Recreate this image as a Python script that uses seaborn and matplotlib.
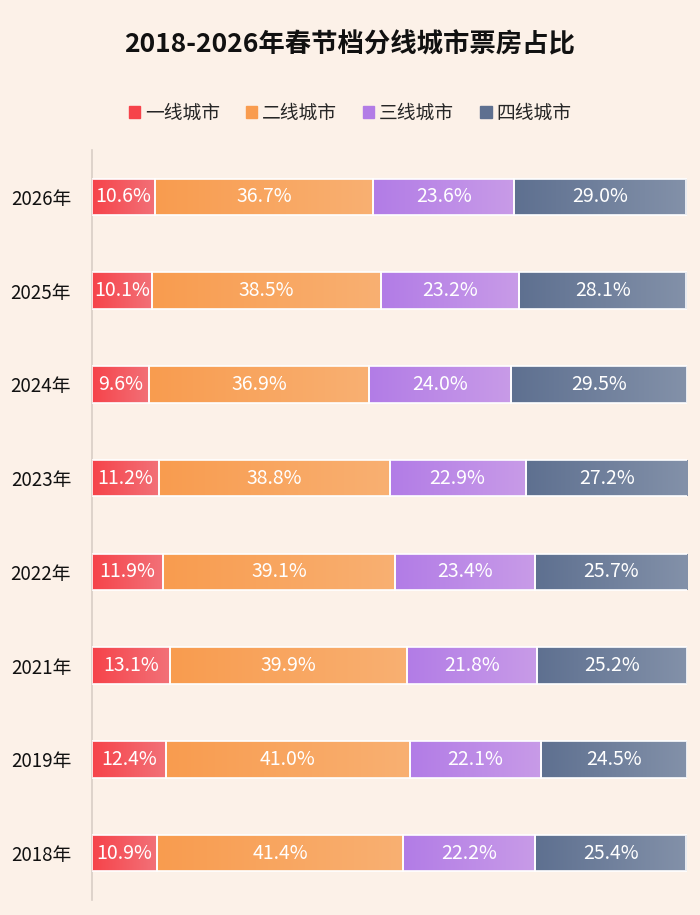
import numpy as np
import pandas as pd
import matplotlib
matplotlib.use("Agg")
import matplotlib.pyplot as plt
from matplotlib.colors import LinearSegmentedColormap
from matplotlib.patches import Rectangle
import seaborn as sns

sns.set_theme(style="white")
plt.rcParams["font.family"] = ["Noto Sans CJK SC", "DejaVu Sans"]

# data, top to bottom as in the picture
years = ["2026年", "2025年", "2024年", "2023年", "2022年", "2021年", "2019年", "2018年"]
tier1 = [10.6, 10.1, 9.6, 11.2, 11.9, 13.1, 12.4, 10.9]
tier2 = [36.7, 38.5, 36.9, 38.8, 39.1, 39.9, 41.0, 41.4]
tier3 = [23.6, 23.2, 24.0, 22.9, 23.4, 21.8, 22.1, 22.2]
tier4 = [29.0, 28.1, 29.5, 27.2, 25.7, 25.2, 24.5, 25.4]
series_names = ["一线城市", "二线城市", "三线城市", "四线城市"]

# (left colour, right colour) for each segment's gradient
grads = [("#F6434A", "#F27178"),
         ("#F99C4F", "#F8B072"),
         ("#B27CE6", "#C89BE8"),
         ("#5E7090", "#8391A9")]

bg = "#FCF1E8"

df = pd.DataFrame({"year": years, "t1": tier1, "t2": tier2, "t3": tier3, "t4": tier4})
cols = ["t1", "t2", "t3", "t4"]
cum = df[cols].cumsum(axis=1)

fig = plt.figure(figsize=(7.0, 9.15), dpi=100, facecolor=bg)
ax = fig.add_axes([92 / 700, 15 / 915, (687 - 92) / 700, 750 / 915])
ax.set_facecolor(bg)

# stacked bars: draw cumulative totals, widest first
for i in reversed(range(4)):
    sns.barplot(x=cum[cols[i]], y=df["year"], color=grads[i][0], orient="h",
                width=0.39, ax=ax, zorder=2 * (4 - i), linewidth=0, saturation=1)

# containers were added widest first -> map back to segment index
containers = list(ax.containers)[::-1]
for i, cont in enumerate(containers):
    cmap = LinearSegmentedColormap.from_list("g%d" % i, grads[i])
    grad = np.linspace(0, 1, 256).reshape(1, -1)
    for j, p in enumerate(cont.patches):
        x1 = p.get_x() + p.get_width()
        x0 = 0 if i == 0 else cum[cols[i - 1]].iloc[j]
        y0 = p.get_y()
        h = p.get_height()
        im = ax.imshow(grad, cmap=cmap, aspect="auto", extent=[x0, x1, y0 + h, y0],
                       zorder=2 * (4 - i) + 1, interpolation="bicubic")
        im.set_clip_path(p)
        ax.add_patch(Rectangle((x0, y0), x1 - x0, h, fill=False, ec="#FFFFFF",
                               lw=1.4, alpha=0.85, zorder=20))
        val = df[cols[i]].iloc[j]
        ax.text((x0 + x1) / 2, y0 + h / 2, f"{val:.1f}%", ha="center", va="center",
                color="white", fontsize=14, zorder=25)

ax.set_xlim(0, 100)
ax.set_ylim(7.5, -0.5)
ax.set_xlabel("")
ax.set_ylabel("")
ax.set_xticks([])
ax.tick_params(axis="y", length=0, pad=15, labelsize=13.5, labelcolor="#111111")
for s in ["top", "right", "bottom"]:
    ax.spines[s].set_visible(False)
ax.spines["left"].set_color("#D9CEC6")
ax.spines["left"].set_linewidth(1.2)

fig.text(0.5, 1 - 45 / 915, "2018-2026年春节档分线城市票房占比", ha="center", va="center",
         fontsize=19, fontweight="bold", color="#111111")

handles = [Rectangle((0, 0), 1, 1, color=g[0]) for g in grads]
fig.legend(handles, series_names, loc="center", bbox_to_anchor=(0.5, 1 - 113 / 915),
           ncol=4, frameon=False, fontsize=13.5, handlelength=0.6, handleheight=0.6,
           handletextpad=0.25, columnspacing=1.4)

fig.savefig("out.png", dpi=100, facecolor=bg)
